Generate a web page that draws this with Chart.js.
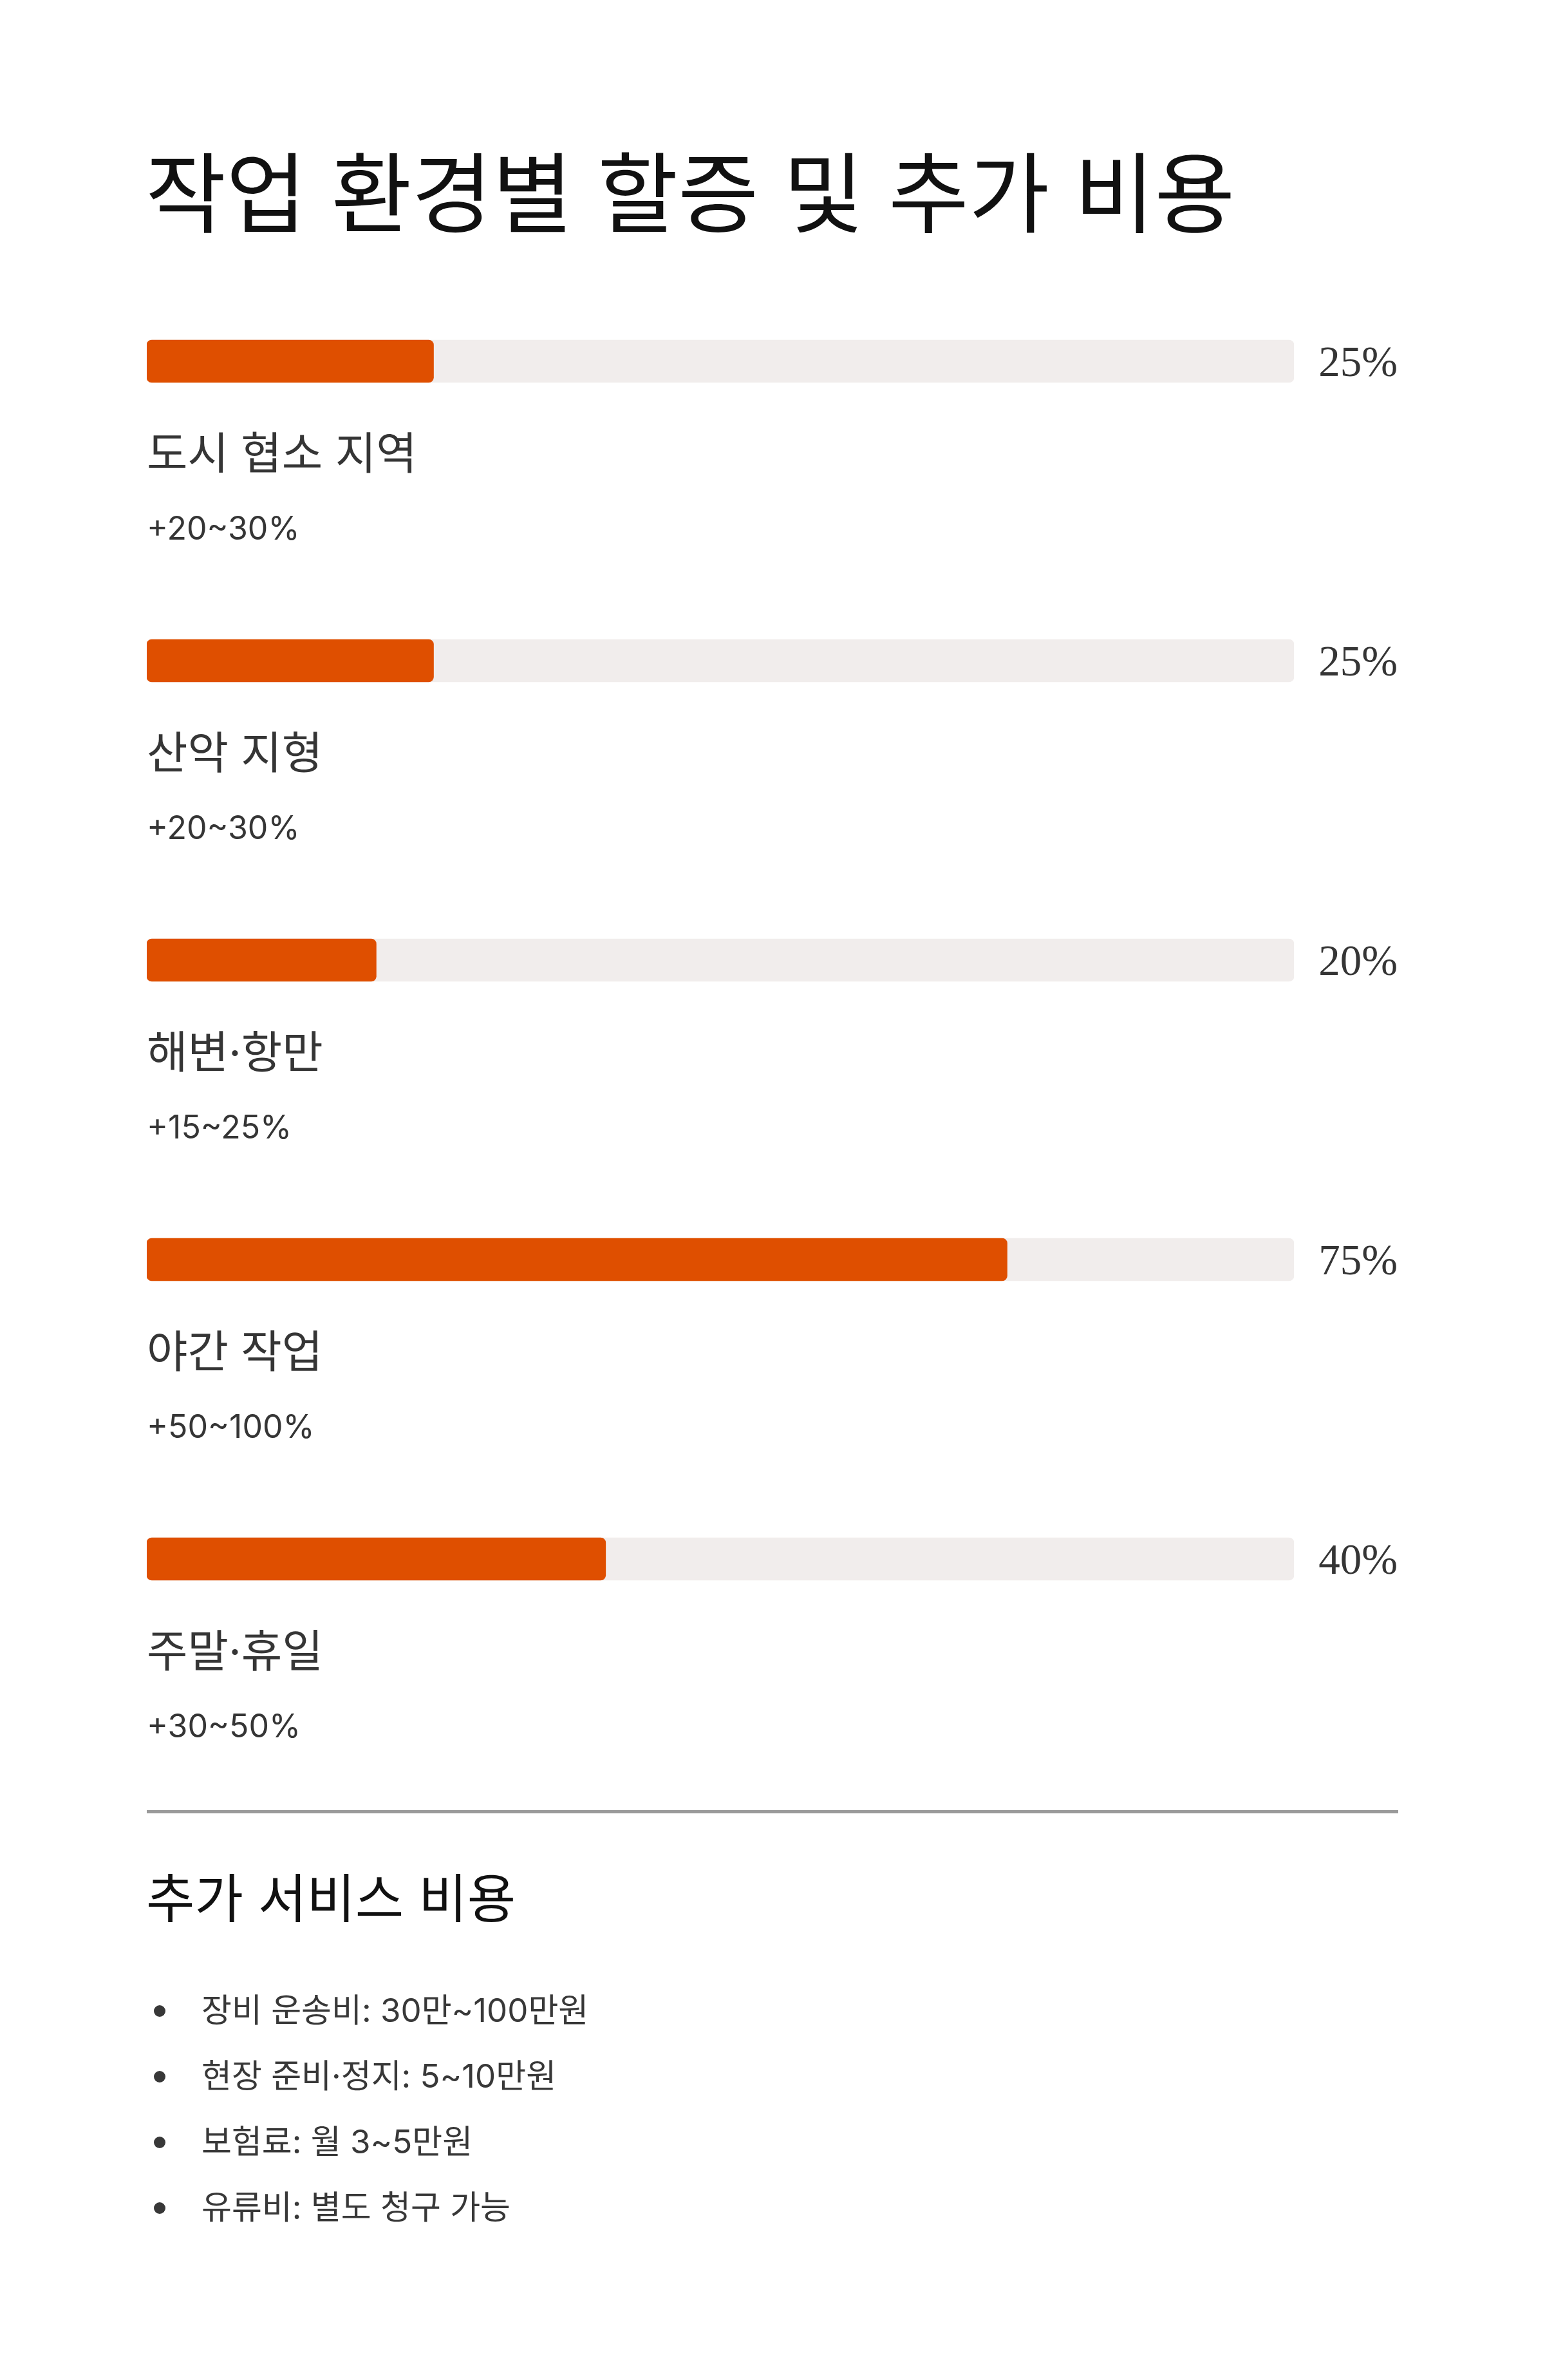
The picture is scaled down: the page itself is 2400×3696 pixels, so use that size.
<!DOCTYPE html>
<html lang="ko">
<head>
<meta charset="utf-8">
<script src="https://cdn.jsdelivr.net/npm/chart.js@4.4.1/dist/chart.umd.min.js"></script>
<style>
  body { margin: 0; background: #ffffff; }
  #page { position: relative; width: 2400px; height: 3696px; overflow: hidden;
          font-family: Inter, "Noto Sans CJK KR", sans-serif; }
  #title { position: absolute; left: 226px; top: 234px; margin: 0; font-size: 136px;
           line-height: 1; font-weight: 400; color: #111111; white-space: nowrap; }
  #chart { position: absolute; left: 0; top: 0; }
  #divider { position: absolute; left: 228px; top: 2811px; width: 1944px; height: 5px; background: #9a9a9a; }
  #subTitle { position: absolute; left: 227px; top: 2908px; margin: 0; font-size: 82px;
              line-height: 1; font-weight: 400; color: #111111; white-space: nowrap; }
  #extraList { position: absolute; left: 228px; top: 3071px; margin: 0; padding: 0; list-style: none;
               font-size: 51px; line-height: 102px; color: #383838; }
  #extraList li { position: relative; padding-left: 85px; white-space: nowrap; }
  #extraList li::before { content: ""; position: absolute; left: 11px; top: 43px; width: 18px; height: 18px;
                          border-radius: 50%; background: #383838; }
</style>
</head>
<body>
<div id="page">
  <h1 id="title">작업 환경별 할증 및 추가 비용</h1>
  <canvas id="chart" width="2400" height="2780"></canvas>
  <div id="divider"></div>
  <h2 id="subTitle">추가 서비스 비용</h2>
  <ul id="extraList"></ul>
</div>
<script>
// 작업 환경 (rows, top to bottom)
const categories = ['도시 협소 지역', '산악 지형', '해변·항만', '야간 작업', '주말·휴일'];
// bar value (%) shown at the right of each bar
const surchargeValues = [25, 25, 20, 75, 40];
// range text under each label
const rangeLabels = ['+20~30%', '+20~30%', '+15~25%', '+50~100%', '+30~50%'];
// grey track behind every bar
const trackValues = [100, 100, 100, 100, 100];
// extra service costs
const extraItems = ['장비 운송비: 30만~100만원', '현장 준비·정지: 5~10만원', '보험료: 월 3~5만원', '유류비: 별도 청구 가능'];

// bullet list
const listEl = document.getElementById('extraList');
extraItems.forEach(text => {
    let li = document.createElement('li');
    li.textContent = text;
    listEl.appendChild(li);
});

// label + range + percent text for every row
const rowTextPlugin = {
    id: 'rowText',
    afterDatasetsDraw(chart) {
        const ctx = chart.ctx;
        const yScale = chart.scales.y;
        const area = chart.chartArea;
        ctx.save();
        categories.forEach((name, i) => {
            const y = yScale.getPixelForValue(i);
            ctx.fillStyle = '#353535';
            ctx.textAlign = 'left';
            ctx.textBaseline = 'alphabetic';
            ctx.font = '69px Inter, "Noto Sans CJK KR"';
            ctx.fillText(name, area.left, y + 168);
            ctx.font = '50px Inter, "Noto Sans CJK KR"';
            ctx.fillText(rangeLabels[i], area.left, y + 277);
            ctx.font = '67px "Liberation Serif", serif';
            ctx.textAlign = 'right';
            ctx.fillText(surchargeValues[i] + '%', chart.width - 229, y + 23);
        });
        ctx.restore();
    }
};

const ctx = document.getElementById('chart');

new Chart(ctx, {
    type: 'bar',
    data: {
        labels: categories,
        datasets: [
            {
                label: '할증',
                data: surchargeValues,
                backgroundColor: '#DF4F00',
                borderRadius: 8,
                borderSkipped: false,
                barThickness: 66,
                grouped: false,
                order: 0
            },
            {
                label: 'track',
                data: trackValues,
                backgroundColor: '#F1EDEC',
                borderRadius: 8,
                borderSkipped: false,
                barThickness: 66,
                grouped: false,
                order: 1
            }
        ]
    },
    options: {
        indexAxis: 'y',
        responsive: false,
        devicePixelRatio: 1,
        animation: false,
        layout: {
            padding: { left: 228, right: 390, top: 328.5, bottom: 126.5 }
        },
        scales: {
            x: { min: 0, max: 100, display: false },
            y: { display: false }
        },
        plugins: {
            legend: { display: false },
            tooltip: { enabled: false }
        }
    },
    plugins: [rowTextPlugin]
});
</script>
</body>
</html>
